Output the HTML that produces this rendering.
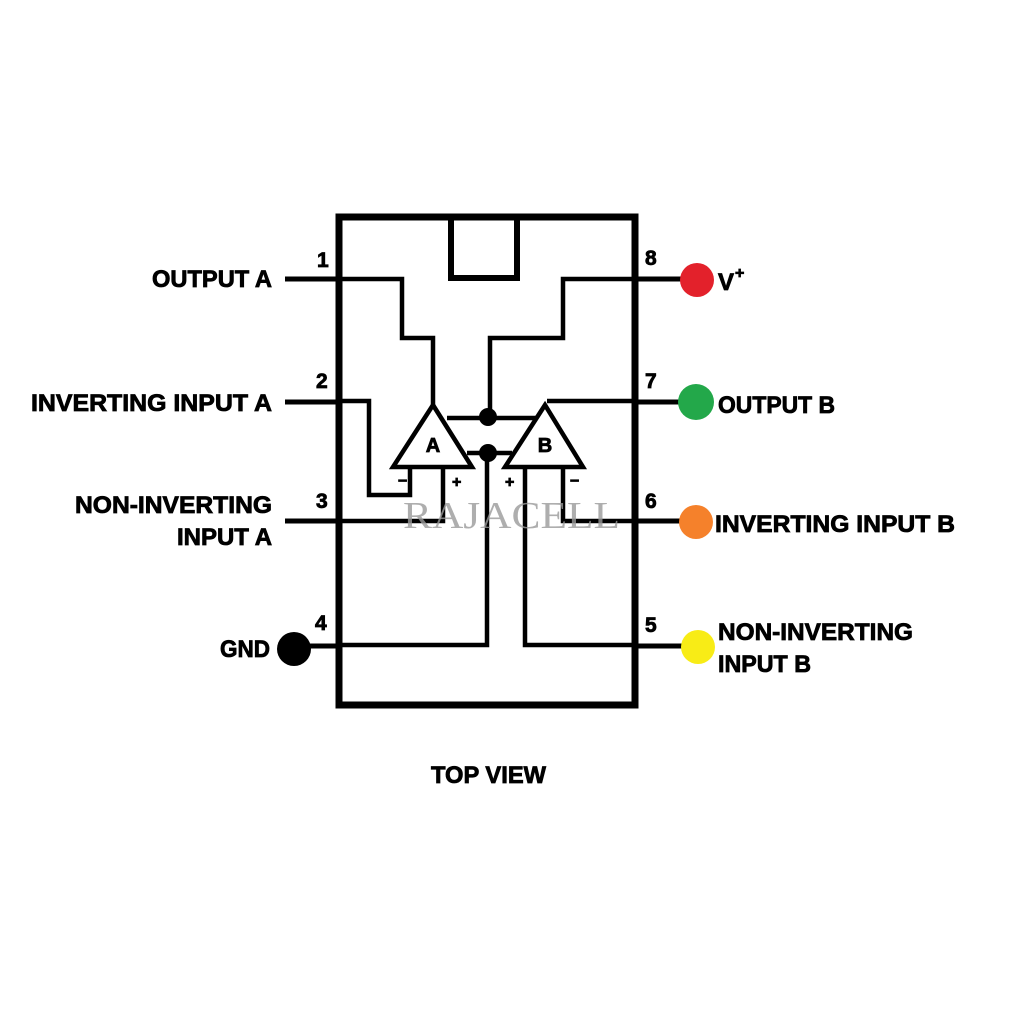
<!DOCTYPE html>
<html><head><style>html,body{margin:0;padding:0;background:#fff}</style></head>
<body>
<svg width="1024" height="1024" viewBox="0 0 1024 1024" xmlns="http://www.w3.org/2000/svg">
<rect width="1024" height="1024" fill="#fff"/>
<g fill="none" stroke="#000" stroke-linejoin="miter">
<rect x="339" y="217" width="296" height="488" stroke-width="7"/>
<polyline points="451,217 451,278 517,278 517,217" stroke-width="6"/>
<g stroke-width="5">
<line x1="285" y1="279" x2="339" y2="279"/><line x1="285" y1="402" x2="339" y2="402"/>
<line x1="285" y1="521" x2="339" y2="521"/><line x1="285" y1="646" x2="339" y2="646"/>
<line x1="635" y1="279" x2="690" y2="279"/><line x1="635" y1="402" x2="690" y2="402"/>
<line x1="635" y1="521" x2="690" y2="521"/><line x1="635" y1="646" x2="690" y2="646"/>
</g>
<g stroke-width="4.5">
<polyline points="339,279 402,279 402,338 433,338 433,405"/>
<polyline points="635,279 563,279 563,338 490,338 490,415"/>
<polyline points="339,401 369,401 369,495 410,495 410,467"/>
<polyline points="635,401 547,401"/>
<polyline points="339,521 443,521 443,467"/>
<polyline points="635,521 563,521 563,467"/>
<polyline points="339,645 487,645 487,452"/>
<polyline points="635,645 525,645 525,467"/>
<line x1="447" y1="418" x2="538" y2="418"/>
<line x1="467" y1="453" x2="512" y2="453"/>
</g>
<polygon points="433,405 393,467 472,467" stroke-width="4.5" fill="#fff"/>
<polygon points="545,405 505,467 583,467" stroke-width="4.5" fill="#fff"/>
</g>
<circle cx="488" cy="417" r="9" fill="#000"/>
<circle cx="488" cy="453" r="9" fill="#000"/>
<g font-family="Liberation Sans, sans-serif" font-weight="bold" fill="#000" stroke="#000" stroke-width="0.8">
<text x="433" y="452" font-size="20" text-anchor="middle">A</text>
<text x="545" y="452" font-size="20" text-anchor="middle">B</text>
<text x="398" y="486" font-size="16">−</text>
<text x="452" y="487" font-size="16">+</text>
<text x="505" y="487" font-size="16">+</text>
<text x="570" y="486" font-size="16">−</text>
<g font-size="21">
<text x="317" y="267">1</text><text x="316" y="388">2</text><text x="316" y="508">3</text><text x="315" y="630">4</text>
<text x="645" y="265">8</text><text x="645" y="388">7</text><text x="645" y="508">6</text><text x="645" y="632">5</text>
</g>
<g font-size="24">
<text x="152" y="287" textLength="120" lengthAdjust="spacingAndGlyphs">OUTPUT A</text>
<text x="31" y="411" textLength="241" lengthAdjust="spacingAndGlyphs">INVERTING INPUT A</text>
<text x="75" y="513" textLength="197" lengthAdjust="spacingAndGlyphs">NON-INVERTING</text>
<text x="177" y="545" textLength="95" lengthAdjust="spacingAndGlyphs">INPUT A</text>
<text x="220" y="657" textLength="50" lengthAdjust="spacingAndGlyphs">GND</text>
<text x="718" y="290">V</text><text x="735" y="278" font-size="16">+</text>
<text x="718" y="413" textLength="117" lengthAdjust="spacingAndGlyphs">OUTPUT B</text>
<text x="715" y="532" textLength="240" lengthAdjust="spacingAndGlyphs">INVERTING INPUT B</text>
<text x="718" y="640" textLength="195" lengthAdjust="spacingAndGlyphs">NON-INVERTING</text>
<text x="718" y="672" textLength="93" lengthAdjust="spacingAndGlyphs">INPUT B</text>
<text x="431" y="783" textLength="115" lengthAdjust="spacingAndGlyphs">TOP VIEW</text>
</g>
</g>
<circle cx="697" cy="280" r="17" fill="#e3212b"/>
<circle cx="696" cy="402" r="18" fill="#23a84a"/>
<circle cx="696" cy="522" r="17" fill="#f5812b"/>
<circle cx="698" cy="647" r="17" fill="#f8ec16"/>
<circle cx="294" cy="649" r="17" fill="#000"/>
<text x="403" y="528" font-family="Liberation Serif, serif" font-size="38" fill="#9a9a9a" fill-opacity="0.8" textLength="217" lengthAdjust="spacingAndGlyphs">RAJACELL</text>
</svg>
</body></html>
